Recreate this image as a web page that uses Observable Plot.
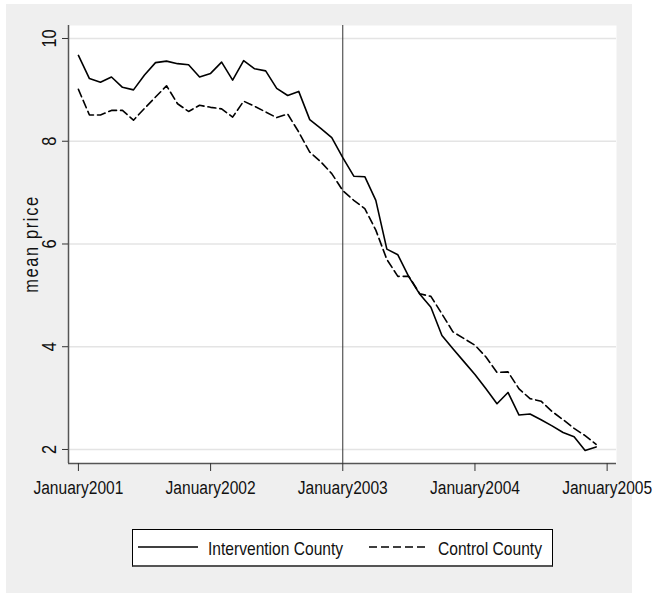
<!DOCTYPE html>
<html><head><meta charset="utf-8">
<script src="https://cdn.jsdelivr.net/npm/d3@7"></script>
<script src="https://cdn.jsdelivr.net/npm/@observablehq/plot@0.6"></script>
<style>
body{margin:0;background:#fff;}
#wrap{position:relative;width:655px;height:594px;overflow:hidden;font-family:'Liberation Sans',Arial,sans-serif;}
#bg{position:absolute;left:6px;top:4px;width:626px;height:589px;background:#efefef;}
#chart{position:absolute;left:0;top:0;}
#legend{position:absolute;left:132px;top:529px;width:419px;height:35px;background:#fff;border:1px solid #000;border-bottom:2px solid #555;font-size:19px;color:#111;white-space:nowrap;}
#legend svg{position:absolute;top:12px;display:block;}
#legend span{position:absolute;top:50%;transform:translateY(-50%) scaleX(0.82);transform-origin:left center;line-height:1;}
</style>
</head><body>
<div id="wrap"><div id="bg"></div><div id="chart"></div><div id="legend"></div></div>
<script>
const months = d3.range(48); // month index, 0 = January 2001
const intervention = [9.67,9.22,9.15,9.25,9.05,9.00,9.29,9.53,9.56,9.51,9.49,9.25,
  9.32,9.54,9.19,9.57,9.41,9.37,9.03,8.89,8.97,8.42,8.25,8.07,
  7.68,7.32,7.31,6.85,5.90,5.79,5.36,5.02,4.77,4.22,3.96,3.71,
  3.46,3.18,2.89,3.11,2.67,2.69,2.58,2.46,2.33,2.25,1.98,2.05];
const control = [9.01,8.51,8.51,8.60,8.60,8.41,8.64,8.86,9.08,8.73,8.58,8.70,
  8.66,8.63,8.47,8.78,8.68,8.57,8.46,8.53,8.18,7.79,7.60,7.37,
  7.04,6.85,6.69,6.27,5.70,5.37,5.37,5.03,4.98,4.64,4.29,4.16,
  4.03,3.80,3.50,3.51,3.18,2.99,2.94,2.74,2.58,2.41,2.27,2.10];
const xTickMonths = [0,12,24,36,48];
const xTickLabels = ["January2001","January2002","January2003","January2004","January2005"];
const yTicks = [2,4,6,8,10];
const interventionStart = [24]; // January2003
const seriesNames = ["Intervention County","Control County"];
const yLabel = "mean price";

const xDomain = [-0.9, 48.85];
const yDomain = [1.727, 10.253];
const font = "'Liberation Sans',Arial,sans-serif";
const narrow = 0.82; // condensed (Arial Narrow-like) look

const rows = months.map(i => ({m: i, a: intervention[i], b: control[i]}));

const chart = Plot.plot({
  width: 655, height: 505,
  marginLeft: 68, marginRight: 39, marginTop: 25, marginBottom: 42,
  style: {background: "transparent", fontFamily: font, color: "#111", overflow: "visible"},
  x: {type: "linear", domain: xDomain},
  y: {domain: yDomain},
  marks: [
    Plot.frame({fill: "white", stroke: "none"}),
    Plot.ruleY(yTicks, {stroke: "#e4e4e4", strokeWidth: 1.5}),
    Plot.ruleX(interventionStart, {stroke: "#333", strokeWidth: 1}),
    Plot.line(rows, {x: "m", y: "a", stroke: "#000", strokeWidth: 1.6}),
    Plot.line(rows, {x: "m", y: "b", stroke: "#000", strokeWidth: 1.6, strokeDasharray: "8,4"}),
    Plot.ruleX([xDomain[0]], {stroke: "#555", strokeWidth: 1.5}),
    Plot.ruleY([yDomain[0]], {stroke: "#555", strokeWidth: 1.5}),
    Plot.axisX(xTickMonths, {tickSize: 8, tickPadding: 9.5, fontSize: 19, stroke: "#333",
      tickFormat: d => xTickLabels[xTickMonths.indexOf(d)], label: null}),
    Plot.axisY(yTicks, {tickSize: 6, tickFormat: () => "", stroke: "#333", label: null}),
    Plot.text(yTicks, {y: d => d, text: d => String(d), frameAnchor: "left", dx: -13,
      rotate: -90, textAnchor: "middle", lineAnchor: "bottom", fontSize: 20, fill: "#111"}),
    Plot.text([yLabel], {y: [6], text: d => d, frameAnchor: "left", dx: -31,
      rotate: -90, textAnchor: "middle", lineAnchor: "bottom", fontSize: 20, fill: "#111"})
  ]
});
// condense all texts along their own direction (Arial Narrow look)
d3.select(chart).selectAll("text").each(function() {
  const t = this.getAttribute("transform") || "";
  this.setAttribute("transform", `${t} scale(${narrow},1)`);
  if (this.textContent === yLabel) this.style.letterSpacing = "2px";
});
document.getElementById("chart").appendChild(chart);

// legend
const leg = document.getElementById("legend");
function swatch(dash, left) {
  const s = d3.create("svg").attr("width", 60).attr("height", 10).style("left", left + "px");
  s.append("line").attr("x1", 0).attr("x2", 60).attr("y1", 5).attr("y2", 5)
    .attr("stroke", "#000").attr("stroke-width", 1.6).attr("stroke-dasharray", dash);
  return s.node();
}
function label(t, left) {
  const sp = document.createElement("span");
  sp.textContent = t; sp.style.left = left + "px";
  return sp;
}
leg.appendChild(swatch(null, 5));
leg.appendChild(label(seriesNames[0], 75));
leg.appendChild(swatch("8,4", 236));
leg.appendChild(label(seriesNames[1], 305));
</script>
</body></html>
